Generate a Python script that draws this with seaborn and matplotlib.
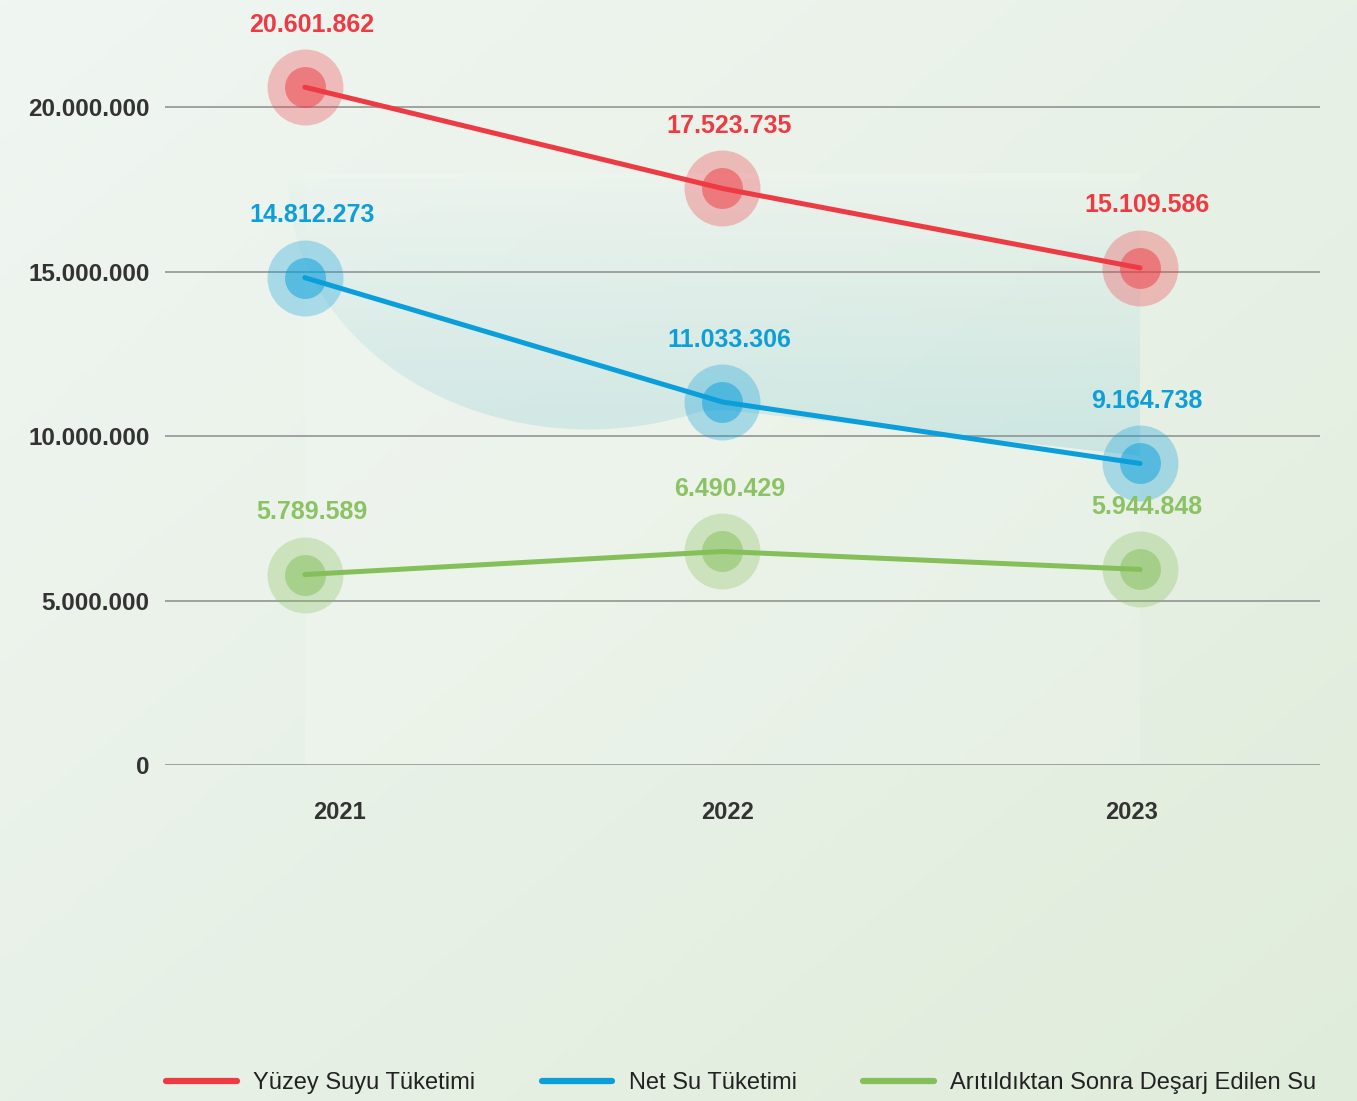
import matplotlib
matplotlib.use("Agg")
import matplotlib.pyplot as plt
import matplotlib.transforms as mtransforms
from matplotlib.lines import Line2D
from matplotlib.patches import Polygon, Rectangle
import numpy as np
import pandas as pd
import seaborn as sns

# data
years = ["2021", "2022", "2023"]
yuzey_suyu = [20601862, 17523735, 15109586]
net_su = [14812273, 11033306, 9164738]
aritilmis_su = [5789589, 6490429, 5944848]
series_names = ["Yüzey Suyu Tüketimi", "Net Su Tüketimi", "Arıtıldıktan Sonra Deşarj Edilen Su"]
y_ticks = [0, 5000000, 10000000, 15000000, 20000000]

colors = ["#EE3B43", "#0A9FDB", "#84BF5A"]
label_colors = ["#EE3B43", "#0E9ED8", "#8BC263"]

rows = []
for name, vals in zip(series_names, [yuzey_suyu, net_su, aritilmis_su]):
    for i, v in enumerate(vals):
        rows.append({"pos": i, "year": years[i], "value": v, "series": name})
df = pd.DataFrame(rows)

sns.set_theme(style="white")
plt.rcParams["font.family"] = ["Liberation Sans", "DejaVu Sans"]

W, H = 1357, 1101
fig = plt.figure(figsize=(W / 100, H / 100), dpi=100)

# background gradient
bg = fig.add_axes([0, 0, 1, 1], zorder=-10)
gx, gy = np.meshgrid(np.linspace(0, 1, 200), np.linspace(0, 1, 200))
t = (gx + gy) / 2
c0 = np.array([240, 246, 242]) / 255
c1 = np.array([224, 236, 219]) / 255
img = c0[None, None, :] * (1 - t[..., None]) + c1[None, None, :] * t[..., None]
bg.imshow(img, aspect="auto", extent=[0, 1, 0, 1], origin="upper")
bg.axis("off")

px_per_m = (765 - 107) / 20.0
ymax = 765 / px_per_m * 1e6
ax = fig.add_axes([165 / W, 1 - 765 / H, (1320 - 165) / W, 765 / H])
ax.set_facecolor("none")

# faint decoration behind the lines
ax.add_patch(Rectangle((0, 0), 2, 18e6, facecolor="white", alpha=0.15, lw=0, zorder=0))
theta = np.linspace(np.pi * 0.98, np.pi * 1.62, 60)
cx, cy = 0.68, 17.8e6
arc_x = cx + 0.72 * np.cos(theta)
arc_y = cy + 7.6e6 * np.sin(theta)
blob = list(zip(arc_x, arc_y)) + [(1.0, 10.8e6), (2.0, 9.4e6), (2.0, 17.8e6), (-0.04, 17.8e6)]
blob_patch = Polygon(blob, closed=True, facecolor="none", lw=0)
ax.add_patch(blob_patch)
fade = np.zeros((100, 10, 4))
fade[..., :3] = np.array([150, 208, 214]) / 255
fade[..., 3] = np.linspace(0.02, 0.36, 100)[:, None]
im = ax.imshow(fade, extent=[-0.05, 2.0, 9.0e6, 17.8e6], origin="upper", aspect="auto", zorder=0)
im.set_clip_path(blob_patch)

ax.set_ylim(0, ymax)
ax.set_xlim(-0.335, 2.431)

for y in y_ticks:
    ax.axhline(y, color="#8C8C8C", lw=1.1, zorder=1)

for name, col in zip(series_names, colors):
    sub = df[df["series"] == name]
    ax.scatter(sub["pos"], sub["value"], s=2990, color=col, alpha=0.3, lw=0, zorder=2, clip_on=False)
    ax.scatter(sub["pos"], sub["value"], s=870, color=col, alpha=0.5, lw=0, zorder=3, clip_on=False)

sns.lineplot(data=df, x="pos", y="value", hue="series", palette=colors,
             hue_order=series_names, lw=3.6, legend=False, ax=ax, zorder=4)

for name, lc in zip(series_names, label_colors):
    sub = df[df["series"] == name]
    for p, v in zip(sub["pos"], sub["value"]):
        ax.annotate(f"{v:,}".replace(",", "."), (p, v), xytext=(5, 45),
                    textcoords="offset points", ha="center", va="center",
                    color=lc, fontsize=18, fontweight="bold", zorder=5)

ax.set_yticks(y_ticks)
ax.set_yticklabels([f"{v:,}".replace(",", ".") for v in y_ticks],
                   fontsize=17.5, fontweight="bold", color="#333333")
ax.set_xticks(range(len(years)))
ax.set_xticklabels(years, fontsize=17, fontweight="bold", color="#333333")
ax.tick_params(axis="y", length=0, pad=11)
ax.tick_params(axis="x", length=0, pad=26)
for lab, dx in zip(ax.get_xticklabels(), [35, 5, -8]):
    lab.set_transform(lab.get_transform() + mtransforms.ScaledTranslation(dx / 100, 0, fig.dpi_scale_trans))
ax.set_xlabel("")
ax.set_ylabel("")
sns.despine(ax=ax, left=True, bottom=True)
ax.grid(False)

handles = [Line2D([0], [0], color=c, lw=4.5) for c in colors]
fig.legend(handles, series_names, loc="center left", bbox_to_anchor=(166 / W, 1 - 1083 / H),
           ncol=3, frameon=False, fontsize=17, handlelength=3.0, handletextpad=0.7,
           columnspacing=2.8, borderpad=0, borderaxespad=0, labelcolor="#222222")

fig.savefig("out.png", dpi=100)
